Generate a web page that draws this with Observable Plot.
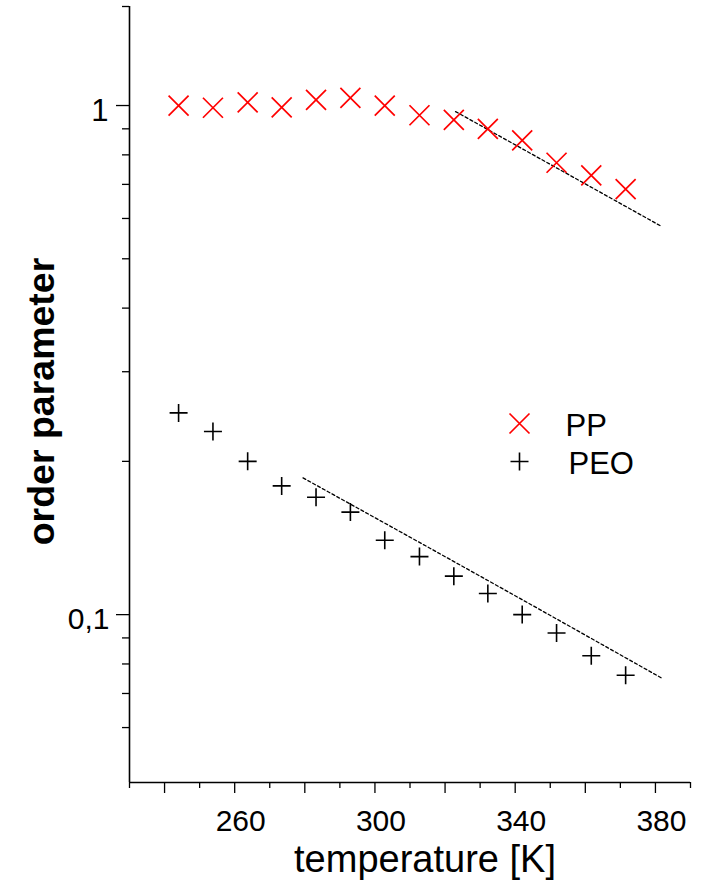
<!DOCTYPE html>
<html>
<head>
<meta charset="utf-8">
<script src="https://cdn.jsdelivr.net/npm/d3@7"></script>
<script src="https://cdn.jsdelivr.net/npm/@observablehq/plot@0.6"></script>
<style>
  html, body { margin: 0; padding: 0; background: #fff; }
  #chart svg { display: block; font-family: "Liberation Sans", Arial, sans-serif; }
</style>
</head>
<body>
<div id="chart"></div>
<script>
// ---- data ----
const temps = [244, 253.8, 263.7, 273.4, 283.2, 293, 302.8, 312.7, 322.5, 332.2, 342, 351.8, 361.7, 371.5];
const ppValues = [1.0, 0.990, 1.014, 0.992, 1.026, 1.035, 1.0, 0.957, 0.937, 0.900, 0.854, 0.772, 0.729, 0.685];
const peoValues = [0.249, 0.229, 0.200, 0.179, 0.170, 0.159, 0.140, 0.130, 0.119, 0.110, 0.100, 0.092, 0.083, 0.076];

const ppFitT = [323, 381.9];
const ppFitV = [0.973, 0.578];
const peoFitT = [279.5, 332.2, 381.7];
const peoFitV = [0.1856, 0.1167, 0.0751];

const legendLabels = ["PP", "PEO"];
const xLabel = "temperature [K]";
const yLabel = "order parameter";

const xDomain = [230, 390];
const yDomain = [0.0468, 1.565];
const xLabelTicks = [260, 300, 340, 380];
const xMajorTicks = [240, 260, 280, 300, 320, 340, 360, 380];
const xMinorTicks = [230, 250, 270, 290, 310, 330, 350, 370, 390];
const yMajorTicks = [1, 0.1];
const yMajorLabels = ["1", "0,1"];
const yMinorTicks = [0.06, 0.07, 0.08, 0.09, 0.2, 0.3, 0.4, 0.5, 0.6, 0.7, 0.8, 0.9, 1.565];

// ---- build ----
const ppData = temps.map((t, i) => ({t, v: ppValues[i]}));
const peoData = temps.map((t, i) => ({t, v: peoValues[i]}));
const ppFit = ppFitT.map((t, i) => ({t, v: ppFitV[i]}));
const peoFit = peoFitT.map((t, i) => ({t, v: peoFitV[i]}));

const timesSym = {draw(ctx, size) { const r = Math.sqrt(size / Math.PI); ctx.moveTo(-r, -r); ctx.lineTo(r, r); ctx.moveTo(-r, r); ctx.lineTo(r, -r); }};
const plusSym = {draw(ctx, size) { const r = Math.sqrt(size / Math.PI); ctx.moveTo(-r, 0); ctx.lineTo(r, 0); ctx.moveTo(0, -r); ctx.lineTo(0, r); }};

const red = "#ff0000";
const font = "Liberation Sans, Arial, sans-serif";

const chart = Plot.plot({
  width: 702,
  height: 889,
  marginTop: 6,
  marginRight: 12,
  marginBottom: 107,
  marginLeft: 129,
  style: {fontFamily: font, background: "#fff", color: "#000"},
  x: {domain: xDomain, axis: null},
  y: {type: "log", domain: yDomain, axis: null},
  marks: [
    // axis lines
    Plot.ruleX([xDomain[0]], {stroke: "#000", strokeWidth: 1.6}),
    Plot.ruleY([yDomain[0]], {stroke: "#000", strokeWidth: 1.6}),
    // x ticks
    Plot.axisX({ticks: xMajorTicks, tickSize: 11, tickFormat: () => "", label: null, strokeWidth: 1.3}),
    Plot.axisX({ticks: xMinorTicks, tickSize: 6, tickFormat: () => "", label: null, strokeWidth: 1.3}),
    Plot.text(xLabelTicks, {x: d => d, text: d => String(d), frameAnchor: "bottom", lineAnchor: "bottom", dy: 48, dx: 6, fontSize: 30, fill: "#000"}),
    // y ticks
    Plot.axisY({ticks: yMajorTicks, tickSize: 13, tickFormat: () => "", label: null, strokeWidth: 1.3}),
    Plot.axisY({ticks: yMinorTicks, tickSize: 7, tickFormat: () => "", label: null, strokeWidth: 1.3}),
    Plot.text([yMajorTicks[0]], {y: d => d, text: () => yMajorLabels[0], frameAnchor: "left", textAnchor: "end", lineAnchor: "bottom", dx: -21, dy: 15, fontSize: 31, fill: "#000"}),
    Plot.text([yMajorTicks[1]], {y: d => d, text: () => yMajorLabels[1], frameAnchor: "left", textAnchor: "end", lineAnchor: "bottom", dx: -20, dy: 14, fontSize: 30, fill: "#000"}),
    // axis titles
    Plot.text([xLabel], {text: d => d, frameAnchor: "bottom", textAnchor: "middle", lineAnchor: "bottom", dx: 15, dy: 89, fontSize: 38, fill: "#000"}),
    Plot.text([yLabel], {text: d => d, frameAnchor: "left", rotate: -90, textAnchor: "middle", lineAnchor: "bottom", dx: -76, dy: 7, fontSize: 37.5, fontWeight: "bold", fill: "#000"}),
    // fit lines
    Plot.line(ppFit, {x: "t", y: "v", stroke: "#000", strokeWidth: 1.3, strokeDasharray: "3,2.5"}),
    Plot.line(peoFit, {x: "t", y: "v", stroke: "#000", strokeWidth: 1.3, strokeDasharray: "3,2.5", curve: "natural"}),
    // data
    Plot.dot(ppData, {x: "t", y: "v", symbol: timesSym, r: 10, stroke: red, strokeWidth: 1.7, fill: "none"}),
    Plot.dot(peoData, {x: "t", y: "v", symbol: plusSym, r: 9, stroke: "#000", strokeWidth: 1.6, fill: "none"}),
    // legend
    Plot.dot([legendLabels[0]], {frameAnchor: "top-left", dx: 390, dy: 417, symbol: timesSym, r: 10, stroke: red, strokeWidth: 1.7, fill: "none"}),
    Plot.dot([legendLabels[1]], {frameAnchor: "top-left", dx: 390, dy: 455, symbol: plusSym, r: 9, stroke: "#000", strokeWidth: 1.6, fill: "none"}),
    Plot.text([legendLabels[0]], {text: d => d, frameAnchor: "top-left", textAnchor: "start", lineAnchor: "bottom", dx: 436, dy: 429, fontSize: 31, fill: "#000"}),
    Plot.text([legendLabels[1]], {text: d => d, frameAnchor: "top-left", textAnchor: "start", lineAnchor: "bottom", dx: 439, dy: 467, fontSize: 31, fill: "#000"})
  ]
});
document.getElementById("chart").appendChild(chart);
</script>
</body>
</html>
